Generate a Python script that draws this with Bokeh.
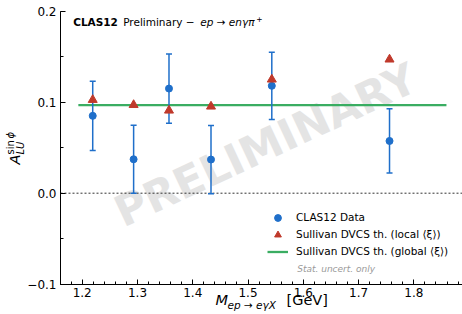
import numpy as np
from bokeh.plotting import figure
from bokeh.models import Label, Legend, LegendItem, FixedTicker, Range1d
from bokeh.embed import file_html
from bokeh.resources import INLINE

# ---- data ----
mass = [1.219, 1.293, 1.357, 1.433, 1.543, 1.756]
asym = [0.085, 0.0373, 0.115, 0.037, 0.118, 0.0574]
asym_err = [0.038, 0.0373, 0.038, 0.0375, 0.037, 0.0353]
theory_local = [0.1026, 0.097, 0.0909, 0.0953, 0.125, 0.147]
theory_global_x = [1.193, 1.859]
theory_global_y = [0.0968, 0.0968]
x_ticks = [1.2, 1.3, 1.4, 1.5, 1.6, 1.7, 1.8]
x_tick_labels = ["1.2", "1.3", "1.4", "1.5", "1.6", "1.7", "1.8"]
y_ticks = [-0.1, 0.0, 0.1, 0.2]
y_tick_labels = ["\u22120.1", "0.0", "0.1", "0.2"]
legend_labels = ["CLAS12 Data", "Sullivan DVCS th. (local \u27e8\u03be\u27e9)",
                 "Sullivan DVCS th. (global \u27e8\u03be\u27e9)"]

BLUE = "#1f6fca"
RED = "#c0392b"
GREEN = "#3aad62"
FONT = "DejaVu Sans"

# axis box (data) and its placement on the canvas
XMIN, XMAX = 1.1607, 1.888
YMIN, YMAX = -0.1, 0.2
W, H = 462, 314
BOX_LEFT, BOX_TOP = 60.0, 10.7       # canvas px of (XMIN, YMAX)
SX, SY = 552.7, 910.0                # px per data unit


def X(px):
    return XMIN + (px - BOX_LEFT) / SX


def Y(py):
    return YMAX - (py - BOX_TOP) / SY


p = figure(width=W, height=H, output_backend="svg", toolbar_location=None,
           x_range=Range1d(X(0), X(W)), y_range=Range1d(Y(H), Y(0)),
           min_border=0, min_border_left=0, min_border_right=0,
           min_border_top=0, min_border_bottom=0)
p.outline_line_color = None
p.xgrid.visible = False
p.ygrid.visible = False
p.background_fill_color = "white"
p.border_fill_color = "white"

# axes, pinned to the edges of the axis box
p.xaxis.fixed_location = YMIN
p.yaxis.fixed_location = XMIN
p.xaxis.bounds = (XMIN, XMAX)
p.yaxis.bounds = (YMIN, YMAX)
p.xaxis.ticker = FixedTicker(ticks=x_ticks, minor_ticks=list(np.round(np.arange(1.16, 1.89, 0.02), 3)))
p.yaxis.ticker = FixedTicker(ticks=y_ticks, minor_ticks=list(np.round(np.arange(-0.1, 0.2001, 0.05), 3)))
p.xaxis.major_label_overrides = {t: s for t, s in zip(x_ticks, x_tick_labels)}
p.yaxis.major_label_overrides = {t: s for t, s in zip(y_ticks, y_tick_labels)}
for ax in (p.xaxis, p.yaxis):
    ax.axis_line_color = "black"
    ax.axis_line_width = 1
    ax.major_tick_line_color = "black"
    ax.minor_tick_line_color = "black"
    ax.major_tick_in = 5
    ax.major_tick_out = 0
    ax.minor_tick_in = 3
    ax.minor_tick_out = 0
    ax.major_label_standoff = 4
    ax.major_label_text_font = FONT
    ax.major_label_text_font_size = "12px"
    ax.major_label_text_color = "black"
    ax.axis_label = None

# zero line across the axis box
p.line([XMIN, XMAX], [0, 0], line_color="#333333", line_dash="2 2", line_width=1)

# watermark
p.add_layout(Label(x=X(265), y=Y(144.5), text="PRELIMINARY", angle=25, angle_units="deg",
                   text_font=FONT, text_font_style="bold", text_font_size="43px",
                   text_color="#e4e4e4", text_align="center", text_baseline="middle",
                   level="underlay"))

# glyphs
lo = [a - e for a, e in zip(asym, asym_err)]
hi = [a + e for a, e in zip(asym, asym_err)]
green_r = p.line(theory_global_x, theory_global_y, line_color=GREEN, line_width=2.3)
p.segment(x0=mass, y0=lo, x1=mass, y1=hi, line_color=BLUE, line_width=1.5)
p.scatter(mass + mass, lo + hi, marker="dash", size=6, line_color=BLUE, line_width=1.5)
data_r = p.scatter(mass, asym, marker="circle", size=7, fill_color=BLUE, line_color=BLUE)
tri_r = p.scatter(mass, theory_local, marker="triangle", size=9, fill_color=RED, line_color=RED)

legend = Legend(items=[LegendItem(label=legend_labels[0], renderers=[data_r]),
                       LegendItem(label=legend_labels[1], renderers=[tri_r]),
                       LegendItem(label=legend_labels[2], renderers=[green_r])],
                location=(267, H - 259.5), border_line_color=None, background_fill_alpha=0,
                padding=0, margin=0, spacing=0, glyph_width=21, glyph_height=17,
                label_height=17, label_standoff=8, label_text_font=FONT,
                label_text_font_size="10.5px", label_text_color="black")
p.add_layout(legend)

p.add_layout(Label(x=X(296.7), y=Y(268), text="Stat. uncert. only", text_font=FONT,
                   text_font_style="italic", text_font_size="9px", text_color="#9a9a9a",
                   text_baseline="middle"))

# title inside the axis box
tx, ty = X(72.7), Y(27.3)
p.add_layout(Label(x=tx, y=ty, text="CLAS12", text_font=FONT, text_font_style="bold",
                   text_font_size="10.5px", text_color="black"))
p.add_layout(Label(x=tx, y=ty, x_offset=50, text="Preliminary \u2212", text_font=FONT,
                   text_font_size="10.5px", text_color="black"))
p.add_layout(Label(x=tx, y=ty, x_offset=127, text="ep \u2192 en\u03b3\u03c0", text_font=FONT,
                   text_font_style="italic", text_font_size="10.5px", text_color="black"))
p.add_layout(Label(x=tx, y=Y(21.3), x_offset=183, text="+", text_font=FONT,
                   text_font_size="7.5px", text_color="black"))

# x axis label
p.add_layout(Label(x=X(215), y=Y(307.7), text="M",
                   text_font=FONT, text_font_style="italic", text_font_size="14.5px",
                   text_color="black"))
p.add_layout(Label(x=X(227), y=Y(310.5), text="ep \u2192 e\u03b3X",
                   text_font=FONT, text_font_style="italic", text_font_size="10.5px",
                   text_color="black"))
p.add_layout(Label(x=X(286), y=Y(307.7), text="[GeV]",
                   text_font=FONT, text_font_size="14.5px", text_color="black"))

# y axis label (rotated)
p.add_layout(Label(x=X(22), y=Y(164), text="A", angle=90, angle_units="deg",
                   text_font=FONT, text_font_style="italic",
                   text_font_size="14.5px", text_color="black"))
p.add_layout(Label(x=X(25.5), y=Y(154), text="LU", angle=90, angle_units="deg",
                   text_font=FONT, text_font_style="italic",
                   text_font_size="10px", text_color="black"))
p.add_layout(Label(x=X(15), y=Y(154), text="sin", angle=90, angle_units="deg",
                   text_font=FONT, text_font_size="10px", text_color="black"))
p.add_layout(Label(x=X(15), y=Y(138), text="\u03d5", angle=90, angle_units="deg",
                   text_font=FONT, text_font_style="italic",
                   text_font_size="10px", text_color="black"))

open("out.html", "w").write(file_html(p, INLINE))
